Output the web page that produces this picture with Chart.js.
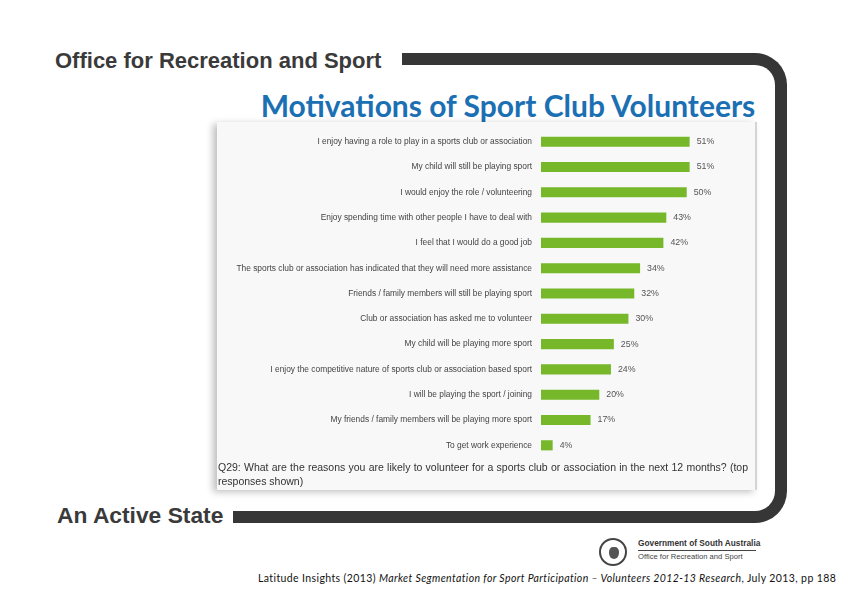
<!DOCTYPE html>
<html>
<head>
<meta charset="utf-8">
<script src="https://cdn.jsdelivr.net/npm/chart.js@4.4.1/dist/chart.umd.min.js"></script>
<style>
    body { margin: 0; width: 842px; height: 596px; background: #fff; position: relative; overflow: hidden; font-family: "Liberation Sans", Arial, sans-serif; }
    .frame { position: absolute; left: 233px; top: 53px; width: 542px; height: 446px; border: 12px solid #363636; border-left: none; border-radius: 0 32px 32px 0; }
    .frame-gap { position: absolute; left: 225px; top: 48px; width: 177px; height: 22px; background: #fff; }
    .header { position: absolute; left: 55px; top: 48px; font-size: 22px; font-weight: bold; color: #3a3a3a; }
    .footer-title { position: absolute; left: 57px; top: 502px; font-size: 22.8px; font-weight: bold; color: #3a3a3a; }
    .left-gap { position: absolute; left: 225px; top: 500px; width: 8px; height: 30px; background: #fff; }
    .title { position: absolute; left: 180px; width: 656px; top: 87px; text-align: center; font-family: Lato, "Open Sans", sans-serif; font-weight: bold; font-size: 30px; color: #1b6fb3; }
    .panel { position: absolute; left: 217px; top: 122px; width: 538px; height: 368px; background: #f8f8f8; box-shadow: -4px 2px 7px rgba(0,0,0,0.25); border-right: 2px solid #d4d4d4; }
    #chartBox { position: absolute; left: 217px; top: 115px; width: 528px; height: 357px; }
    .question { position: absolute; left: 218px; top: 460px; width: 530px; font-size: 10.5px; color: #333; line-height: 14px; }
    .question .l1 { text-align: justify; text-align-last: justify; }
    .gov { position: absolute; left: 599px; top: 538px; }
    .seal { position: absolute; left: 0; top: 0; width: 24px; height: 24px; border: 2px solid #444; border-radius: 50%; }
    .seal-in { position: absolute; left: 8px; top: 7px; width: 10px; height: 12px; background: #555; border-radius: 40% 40% 50% 50%; }
    .gov-name { position: absolute; left: 39px; top: 0; font-size: 8.3px; font-weight: bold; color: #333; white-space: nowrap; border-bottom: 1px solid #444; padding-bottom: 2px; width: 118px; }
    .gov-sub { position: absolute; left: 39px; top: 14px; font-size: 7.6px; color: #444; white-space: nowrap; }
    .cite { position: absolute; left: 258px; top: 572px; font-family: Lato, "Open Sans", sans-serif; font-size: 10.5px; letter-spacing: 0.39px; color: #111; white-space: nowrap; }
</style>
</head>
<body>
<div class="frame"></div>
<div class="frame-gap"></div>
<div class="left-gap"></div>
<div class="header">Office for Recreation and Sport</div>
<div class="footer-title">An Active State</div>
<div class="title">Motivations of Sport Club Volunteers</div>
<div class="panel"></div>
<div id="chartBox"><canvas id="motivationsChart"></canvas></div>
<div class="question">
    <div class="l1">Q29: What are the reasons you are likely to volunteer for a sports club or association in the next 12 months? (top</div>
    <div>responses shown)</div>
</div>
<div class="gov">
    <div class="seal"><div class="seal-in"></div></div>
    <div class="gov-name">Government of South Australia</div>
    <div class="gov-sub">Office for Recreation and Sport</div>
</div>
<div class="cite">Latitude Insights (2013) <i>Market Segmentation for Sport Participation – Volunteers 2012-13 Research</i>, July 2013, pp 188</div>

<script>
// Chart data
const reasons = [
    'I enjoy having a role to play in a sports club or association',
    'My child will still be playing sport',
    'I would enjoy the role / volunteering',
    'Enjoy spending time with other people I have to deal with',
    'I feel that I would do a good job',
    'The sports club or association has indicated that they will need more assistance',
    'Friends / family members will still be playing sport',
    'Club or association has asked me to volunteer',
    'My child will be playing more sport',
    'I enjoy the competitive nature of sports club or association based sport',
    'I will be playing the sport / joining',
    'My friends / family members will be playing more sport',
    'To get work experience'
];
const percentages = [51, 51, 50, 43, 42, 34, 32, 30, 25, 24, 20, 17, 4];

// Draws the "51%" style labels at the end of each bar
const valueLabels = {
    id: 'valueLabels',
    afterDatasetsDraw(chart) {
        const ctx = chart.ctx;
        const meta = chart.getDatasetMeta(0);
        ctx.save();
        ctx.font = '8.8px "Liberation Sans", Arial, sans-serif';
        ctx.fillStyle = '#555';
        ctx.textBaseline = 'middle';
        meta.data.forEach((bar, i) => {
            ctx.fillText(percentages[i] + '%', bar.x + 7, bar.y);
        });
        ctx.restore();
    }
};

document.addEventListener('DOMContentLoaded', function () {
    const ctx = document.getElementById('motivationsChart');
    new Chart(ctx.getContext('2d'), {
        type: 'bar',
        data: {
            labels: reasons,
            datasets: [{
                data: percentages,
                backgroundColor: '#76b82a',
                barPercentage: 0.4,
                categoryPercentage: 1
            }]
        },
        options: {
            indexAxis: 'y',
            responsive: true,
            maintainAspectRatio: false,
            animation: false,
            layout: { padding: 0 },
            plugins: { legend: { display: false }, tooltip: { enabled: false } },
            scales: {
                x: { display: false, min: 0, max: 70 },
                y: {
                    grid: { display: false, drawTicks: false },
                    border: { display: false },
                    ticks: {
                        padding: 9,
                        color: '#444',
                        font: { family: '"Liberation Sans", Arial, sans-serif', size: 8.4 }
                    },
                    afterFit: (scale) => { scale.width = 324; }
                }
            }
        },
        plugins: [valueLabels]
    });
});
</script>
</body>
</html>
